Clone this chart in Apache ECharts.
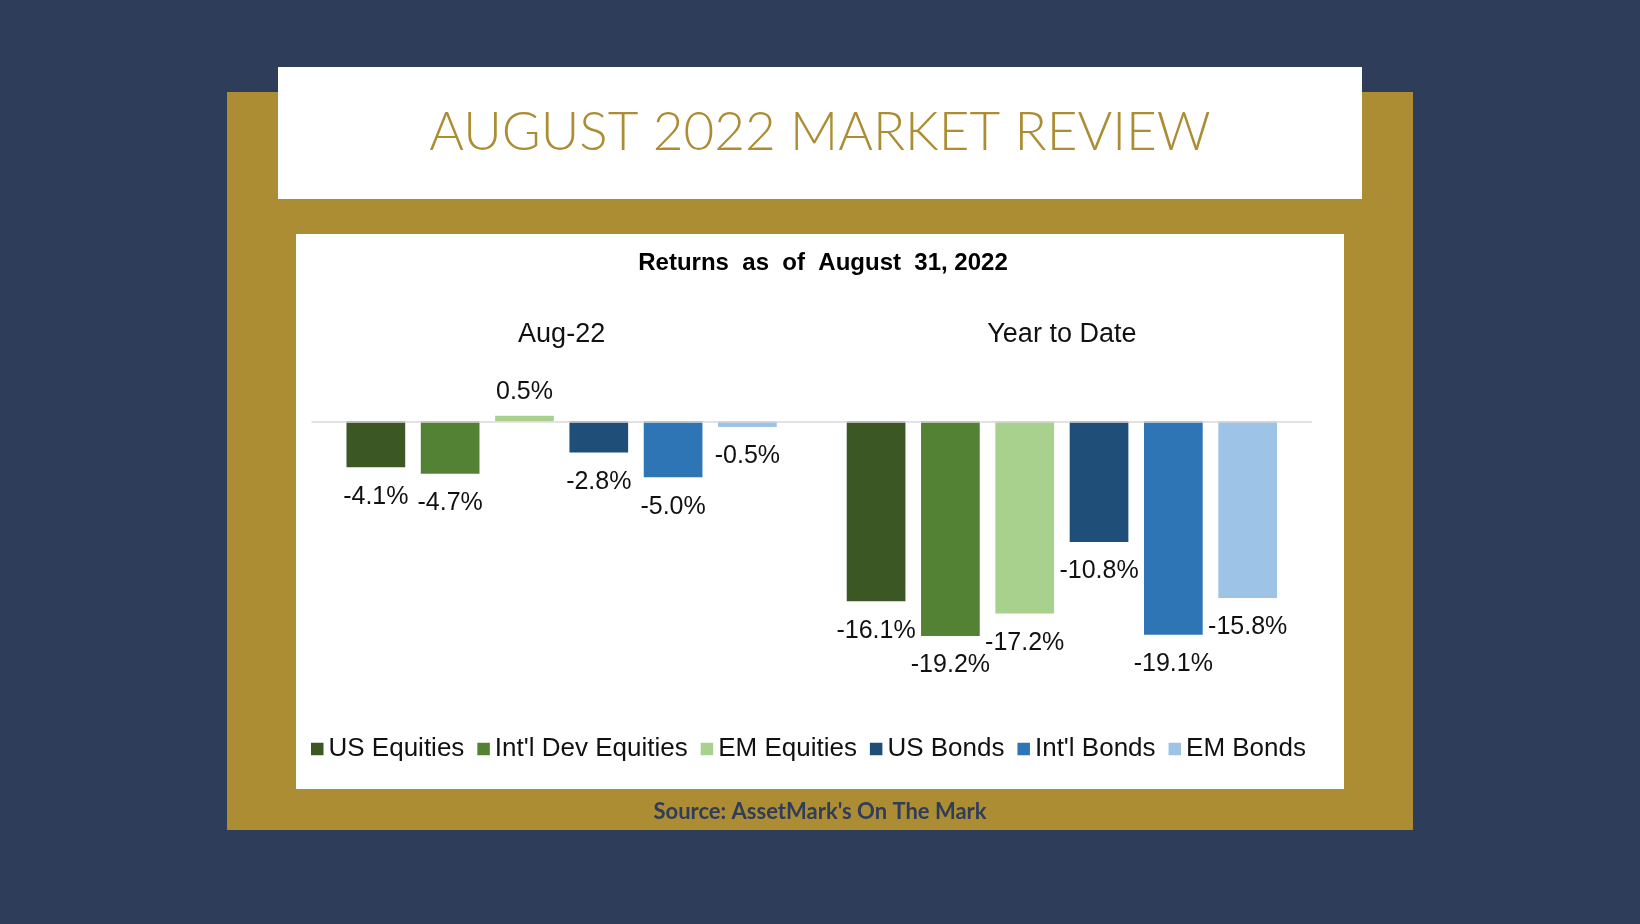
<!DOCTYPE html>
<html>
<head>
<meta charset="utf-8">
<title>August 2022 Market Review</title>
<script src="https://cdn.jsdelivr.net/npm/echarts@6/dist/echarts.min.js"></script>
<style>
  html, body { margin: 0; padding: 0; background: #2e3d5a; }
  #chart { width: 1640px; height: 924px; }
</style>
</head>
<body>
<div id="chart"></div>
<script>
// Returns as of August 31, 2022 (percent).
var periods = ['Aug-22', 'Year to Date'];
var assetNames = ['US Equities', "Int'l Dev Equities", 'EM Equities', 'US Bonds', "Int'l Bonds", 'EM Bonds'];
var assetColors = ['#3a5724', '#548235', '#a9d18e', '#1f4e79', '#2e75b6', '#9dc3e6'];
var usEquities = [-4.1, -16.1];
var intlDevEquities = [-4.7, -19.2];
var emEquities = [0.5, -17.2];
var usBonds = [-2.8, -10.8];
var intlBonds = [-5.0, -19.1];
var emBonds = [-0.5, -15.8];
var assetValues = [usEquities, intlDevEquities, emEquities, usBonds, intlBonds, emBonds];

var NAVY = '#2e3d5a', GOLD = '#ad8d33';
var LABEL_FONT = '"Liberation Sans", Arial, sans-serif';

function pct(v) { return Number(v).toFixed(1) + '%'; }

var chart = echarts.init(document.getElementById('chart'));
chart.setOption({
  backgroundColor: NAVY,
  animation: false,
  graphic: [
    { type: 'rect', z: 0, shape: { x: 227, y: 92, width: 1186, height: 738 }, style: { fill: GOLD } },
    { type: 'rect', z: 1, shape: { x: 278, y: 67, width: 1084, height: 132 }, style: { fill: '#ffffff' } },
    { type: 'rect', z: 1, shape: { x: 296, y: 234, width: 1048, height: 555 }, style: { fill: '#ffffff' } },
    {
      type: 'text', z: 2, x: 820, y: 133,
      style: { text: 'AUGUST 2022 MARKET REVIEW', fill: GOLD, font: '300 53px Lato, "Open Sans", sans-serif', align: 'center', verticalAlign: 'middle' }
    },
    {
      type: 'text', z: 2, x: 823, y: 263,
      style: { text: 'Returns  as  of  August  31, 2022', fill: '#000', font: 'bold 24px ' + LABEL_FONT, align: 'center', verticalAlign: 'middle' }
    },
    {
      type: 'text', z: 2, x: 820, y: 812,
      style: { text: "Source: AssetMark's On The Mark", fill: '#2f3d5b', font: 'bold 22px Lato, "Open Sans", sans-serif', align: 'center', verticalAlign: 'middle' }
    }
  ],
  legend: {
    left: 306, top: 731,
    itemWidth: 12.5, itemHeight: 12.5, itemGap: 13,
    icon: 'rect',
    textStyle: { fontFamily: LABEL_FONT, fontSize: 26, color: '#111' },
    data: assetNames
  },
  grid: { left: 311.5, width: 1000.5, top: 365.4, height: 335.4 },
  xAxis: {
    type: 'category', data: periods, position: 'top', z: 10,
    axisLine: { show: false, onZero: false }, axisTick: { show: false }, splitLine: { show: false },
    axisLabel: { show: true, margin: 17, fontFamily: LABEL_FONT, fontSize: 27, color: '#111' }
  },
  yAxis: { type: 'value', min: -25, max: 5, show: false },
  series: assetNames.map(function (name, i) {
    var s = {
      name: name, type: 'bar', barWidth: 58.7, barGap: '26.6%',
      itemStyle: { color: assetColors[i] },
      label: {
        show: true, position: 'bottom', distance: 17,
        fontFamily: LABEL_FONT, fontSize: 25, color: '#111',
        formatter: function (p) { return pct(p.value); }
      },
      data: assetValues[i].map(function (v) {
        return v >= 0 ? { value: v, label: { position: 'top', distance: 11 } } : v;
      })
    };
    if (i === 0) {
      // zero baseline across the plot
      s.markLine = {
        silent: true, symbol: 'none', label: { show: false },
        lineStyle: { color: '#d9d9d9', width: 1.5, type: 'solid' },
        data: [{ yAxis: 0 }]
      };
    }
    return s;
  })
});
</script>
</body>
</html>
